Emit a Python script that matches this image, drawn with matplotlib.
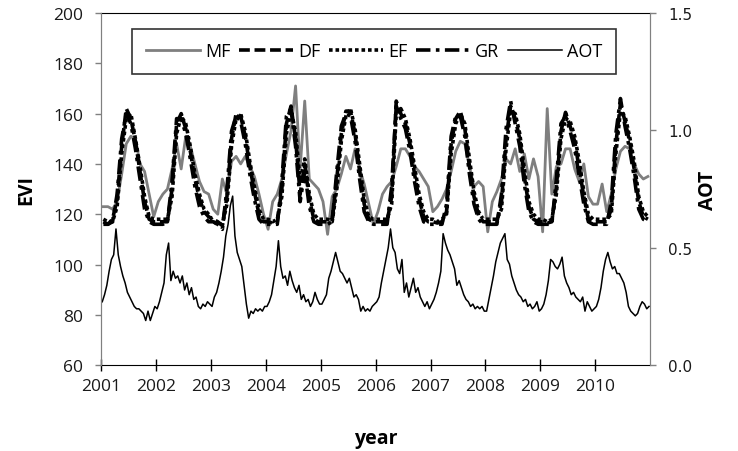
import numpy as np
import matplotlib
matplotlib.use("Agg")
import matplotlib.pyplot as plt

plt.rcParams['font.family'] = ['Open Sans', 'DejaVu Sans']

years = list(range(2001, 2011))

# monthly EVI values, one row per year
mf = [
    [123, 123, 122, 125, 136, 148, 151, 150, 140, 137, 128, 119],
    [125, 128, 130, 138, 148, 138, 151, 147, 140, 133, 129, 128],
    [122, 120, 134, 128, 141, 143, 140, 143, 139, 135, 128, 120],
    [114, 125, 128, 134, 144, 153, 171, 138, 165, 134, 132, 130],
    [125, 112, 127, 130, 136, 143, 138, 146, 138, 132, 124, 116],
    [121, 128, 131, 133, 139, 146, 146, 143, 139, 137, 134, 131],
    [121, 123, 126, 130, 137, 145, 149, 148, 139, 131, 133, 131],
    [113, 125, 129, 134, 142, 140, 146, 137, 144, 134, 142, 135],
    [113, 162, 128, 139, 140, 146, 146, 138, 133, 140, 127, 124],
    [124, 132, 121, 128, 138, 145, 147, 146, 140, 136, 134, 135],
]
df = [
    [117, 116, 118, 126, 147, 162, 158, 149, 137, 125, 118, 117],
    [117, 117, 117, 130, 156, 160, 154, 145, 134, 126, 121, 119],
    [118, 117, 115.5, 127, 150, 160, 159, 151, 139, 129, 120, 117],
    [117, 116.5, 117, 130, 156, 163, 150, 128, 140, 126, 118, 117],
    [117, 117, 118, 134, 152, 161, 161, 152, 137, 124, 118, 117],
    [117, 117, 117, 127, 165, 160, 156, 148, 136, 126, 119, 117],
    [117, 116.5, 117, 121, 148, 158, 161, 154, 139, 127, 119.5, 117],
    [117, 117, 117, 125, 150, 163, 158, 150, 135, 123, 118, 117],
    [117, 116.5, 117, 131, 153, 160.5, 155, 149, 138, 127, 118, 117],
    [117, 117, 117, 122, 148, 164, 157, 149, 138, 125, 119, 118],
]
ef = [
    [118, 117, 117, 123, 144, 158, 160, 150, 139, 127, 119, 118],
    [118, 118, 118, 127, 152, 159, 156, 147, 136, 128, 122, 120],
    [117, 116, 116, 124, 147, 158, 160, 153, 141, 131, 122, 118],
    [118, 117, 118, 127, 152, 161, 153, 133, 142, 128, 120, 118],
    [118, 118, 117, 130, 149, 159, 162, 154, 140, 126, 119, 118],
    [118, 118, 118, 124, 160, 162, 158, 150, 139, 128, 121, 118],
    [118, 117, 118, 120, 144, 156, 160, 156, 142, 129, 121, 118],
    [118, 118, 118, 122, 146, 161, 160, 152, 138, 125, 120, 118],
    [118, 117, 118, 128, 150, 158, 157, 151, 141, 129, 120, 118],
    [118, 118, 118, 120, 144, 161, 159, 151, 141, 127, 121, 119],
]
gr = [
    [116, 116, 117, 128, 150, 160, 156, 146, 134, 122, 117, 116],
    [116, 116, 117, 133, 158, 158, 152, 142, 131, 123, 119, 117],
    [117, 116, 114, 130, 153, 159, 157, 148, 136, 126, 118, 116],
    [116, 116, 116, 133, 159, 162, 147, 125, 137, 123, 117, 116],
    [116, 116, 117, 137, 155, 160, 159, 149, 134, 121, 117, 116],
    [116, 116, 116, 131, 163, 158, 154, 145, 133, 123, 117, 116],
    [116, 116, 116, 124, 151, 159, 159, 151, 136, 124, 118, 116],
    [116, 116, 116, 128, 154, 165, 156, 147, 132, 121, 117, 116],
    [116, 116, 116, 134, 156, 159, 153, 146, 135, 124, 117, 116],
    [116, 116, 116, 125, 152, 166, 155, 146, 135, 122, 118, 117],
]

# half-monthly AOT values, one row per year
aot = [
    [0.27, 0.30, 0.34, 0.40, 0.45, 0.47, 0.58, 0.47, 0.42, 0.38, 0.35, 0.31,
     0.29, 0.27, 0.25, 0.24, 0.24, 0.23, 0.22, 0.19, 0.23, 0.19, 0.22, 0.25],
    [0.24, 0.27, 0.31, 0.35, 0.47, 0.52, 0.36, 0.40, 0.37, 0.38, 0.35, 0.38,
     0.32, 0.35, 0.30, 0.33, 0.28, 0.29, 0.25, 0.24, 0.26, 0.25, 0.27, 0.26],
    [0.25, 0.29, 0.31, 0.35, 0.40, 0.46, 0.55, 0.60, 0.68, 0.72, 0.55, 0.48,
     0.45, 0.42, 0.34, 0.26, 0.20, 0.23, 0.22, 0.24, 0.23, 0.24, 0.23, 0.25],
    [0.25, 0.27, 0.30, 0.36, 0.42, 0.53, 0.42, 0.37, 0.38, 0.34, 0.40, 0.36,
     0.33, 0.31, 0.34, 0.28, 0.30, 0.27, 0.28, 0.25, 0.27, 0.31, 0.28, 0.26],
    [0.26, 0.28, 0.30, 0.37, 0.40, 0.44, 0.48, 0.44, 0.40, 0.39, 0.37, 0.35,
     0.37, 0.33, 0.29, 0.30, 0.28, 0.23, 0.25, 0.23, 0.24, 0.23, 0.25, 0.26],
    [0.27, 0.29, 0.35, 0.40, 0.45, 0.50, 0.58, 0.50, 0.48, 0.41, 0.39, 0.45,
     0.31, 0.35, 0.29, 0.33, 0.37, 0.31, 0.33, 0.29, 0.27, 0.25, 0.27, 0.24],
    [0.26, 0.28, 0.31, 0.35, 0.40, 0.56, 0.52, 0.49, 0.47, 0.44, 0.41, 0.34,
     0.36, 0.33, 0.30, 0.28, 0.27, 0.25, 0.26, 0.24, 0.25, 0.24, 0.25, 0.23],
    [0.23, 0.28, 0.33, 0.38, 0.44, 0.48, 0.52, 0.54, 0.56, 0.45, 0.43, 0.38,
     0.35, 0.32, 0.30, 0.29, 0.27, 0.28, 0.25, 0.26, 0.24, 0.25, 0.27, 0.23],
    [0.24, 0.26, 0.30, 0.36, 0.45, 0.44, 0.42, 0.41, 0.43, 0.46, 0.38, 0.35,
     0.33, 0.30, 0.31, 0.29, 0.28, 0.27, 0.29, 0.23, 0.27, 0.25, 0.23, 0.24],
    [0.25, 0.28, 0.33, 0.40, 0.45, 0.48, 0.44, 0.41, 0.42, 0.39, 0.39, 0.37,
     0.35, 0.31, 0.25, 0.23, 0.22, 0.21, 0.22, 0.25, 0.27, 0.26, 0.24, 0.25],
]

# decimal-year positions of each sample
t_month = np.array([y + (m + 0.5) / 12 for y in years for m in range(12)])
t_half = np.array([y + (k + 0.5) / 24 for y in years for k in range(24)])

fig = plt.figure(figsize=(7.38, 4.52), dpi=100)
ax = fig.add_axes([0.137, 0.190, 0.744, 0.779])
ax2 = ax.twinx()

ax.plot(t_month, np.ravel(mf), color='#7f7f7f', lw=2, label='MF')
ax.plot(t_month, np.ravel(df), color='black', lw=2.6, ls=(0, (3, 1.3)), label='DF')
ax.plot(t_month, np.ravel(ef), color='black', lw=2.6, ls=(0, (1, 0.8)), label='EF')
ax.plot(t_month, np.ravel(gr), color='black', lw=2.6, ls=(0, (4, 1.5, 1, 1.5)), label='GR')
ax2.plot(t_half, np.ravel(aot), color='black', lw=1.1, label='AOT')

ax.set_xlim(2001, 2011)
ax.set_ylim(60, 200)
ax2.set_ylim(0, 1.5)
ax.set_xticks(years)
ax.set_xticklabels([str(y) for y in years])
ax.set_yticks(range(60, 201, 20))
ax2.set_yticks([0.0, 0.5, 1.0, 1.5])
ax2.set_yticklabels(['0.0', '0.5', '1.0', '1.5'], family='DejaVu Sans')

ax.tick_params(labelsize=12.5, colors='#1a1a1a', width=1, color='#808080')
ax2.tick_params(labelsize=11, colors='#1a1a1a', width=1, color='#808080')
ax.tick_params(axis='x', direction='inout', length=8, color='black', pad=5)
ax.tick_params(axis='y', direction='out', length=4, pad=9)
ax2.tick_params(axis='y', direction='out', length=4, pad=9)

for s in ('left', 'right'):
    ax.spines[s].set_color('#808080')
    ax2.spines[s].set_color('#808080')
ax.spines['bottom'].set_color('black')
ax.spines['top'].set_color('black')
ax2.spines['top'].set_visible(False)
ax2.spines['bottom'].set_visible(False)

ax.set_xlabel('year', fontsize=14, fontweight='bold', labelpad=25)
ax.set_ylabel('EVI', fontsize=14, fontweight='bold', labelpad=12)
ax2.set_ylabel('AOT', fontsize=14, fontweight='bold', labelpad=4)

h1, l1 = ax.get_legend_handles_labels()
h2, l2 = ax2.get_legend_handles_labels()
leg = ax2.legend(h1 + h2, l1 + l2, ncol=5, loc='upper center',
                 bbox_to_anchor=(0.497, 0.955), fontsize=13, frameon=True,
                 fancybox=False, edgecolor='black', handlelength=3.0,
                 handletextpad=0.3, columnspacing=0.45, borderpad=0.75,
                 borderaxespad=0)
leg.get_frame().set_linewidth(1.2)

fig.savefig('out.png', dpi=100)
